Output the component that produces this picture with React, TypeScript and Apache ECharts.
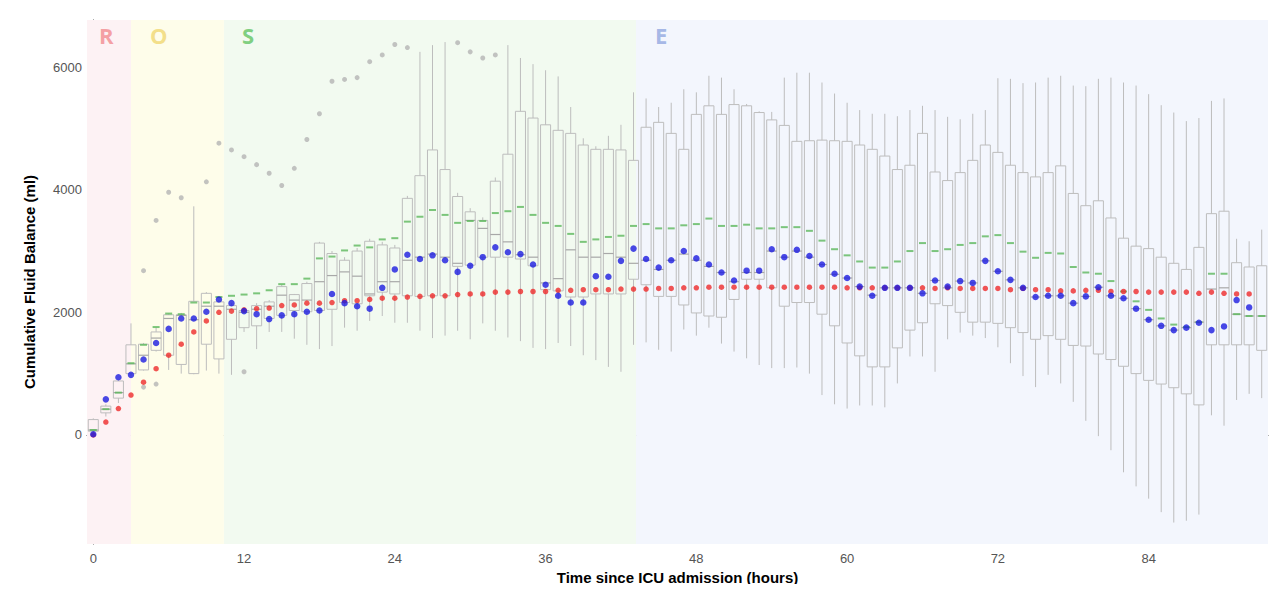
import React, { useEffect, useRef } from "react";
import * as echarts from "echarts";

const hours = [0,1,2,3,4,5,6,7,8,9,10,11,12,13,14,15,16,17,18,19,20,21,22,23,24,25,26,27,28,29,30,31,32,33,34,35,36,37,38,39,40,41,42,43,44,45,46,47,48,49,50,51,52,53,54,55,56,57,58,59,60,61,62,63,64,65,66,67,68,69,70,71,72,73,74,75,76,77,78,79,80,81,82,83,84,85,86,87,88,89,90,91,92,93];

const boxMin = [0,300,520,960,1050,1360,1060,1000,990,1050,1000,980,1680,1400,1680,1680,1570,1470,1400,1450,1750,1700,1860,1940,1830,1830,1700,1580,1620,1700,1560,1820,1700,1590,1530,1420,1400,1500,1450,1300,1220,1110,1030,1470,1510,1390,1360,1720,1620,1750,1490,1360,1250,1140,1090,1090,1100,1000,650,500,430,480,480,450,840,1280,1280,1030,1560,1670,1620,1580,1430,1170,960,780,980,840,540,230,-20,-250,-610,-840,-1040,-1260,-1430,-1400,-1300,320,150,570,670,600];
const boxQ1 = [60,360,600,1000,1060,1380,1300,1150,1000,1480,1240,1560,1750,1780,1900,1950,2030,2010,2030,2050,2160,2140,2270,2330,2300,2270,2260,2270,2270,2750,2770,2900,2900,2900,2870,2760,2370,2350,2250,2250,2300,2300,2300,2540,2450,2260,2260,2120,1990,1940,1920,2210,2540,2540,2400,2100,2160,2160,1970,1780,1500,1290,1110,1110,1420,1710,1830,2140,2110,2000,1840,1840,1820,1750,1670,1560,1620,1560,1460,1450,1320,1230,1120,1000,890,830,770,670,490,1470,1470,1470,1470,1380];
const boxMedian = [80,420,690,1160,1300,1580,1900,1950,1880,2100,2100,2050,2000,2050,2100,2280,2200,2200,2500,2600,2660,2590,2300,2500,2500,2850,2900,2950,2900,2800,3500,3370,3270,3150,2940,2900,2480,2550,3020,2900,2900,2960,2900,2800,2850,2700,2850,2950,2850,2750,2650,2500,2650,2650,3000,2900,3000,2900,2780,2620,2560,2420,2280,2400,2400,2400,2310,2520,2400,2510,2480,2840,2670,2530,2400,2250,2270,2270,2150,2260,2410,2270,2230,2060,1880,1780,1710,1750,1840,2380,2400,1970,1940,1940];
const boxQ3 = [250,470,880,1470,1480,1680,1960,1960,2180,2310,2170,2110,2030,2110,2170,2420,2290,2470,3130,2960,2850,3000,3160,3100,3050,3860,4230,4650,4330,3890,3640,3500,4140,4580,5280,5170,5060,4970,4920,4730,4660,4660,4650,4480,5020,5100,4920,4660,5230,5370,5230,5390,5370,5260,5140,5050,4790,4800,4810,4800,4790,4730,4660,4550,4330,4400,4920,4290,4150,4280,4480,4730,4610,4400,4280,4210,4280,4390,3940,3740,3820,3540,3210,3080,3040,2900,2800,2700,3060,3610,3650,2810,2740,2760];
const boxMax = [270,500,900,1820,1500,1750,1980,1990,3730,2330,2200,2150,2060,2150,2200,2450,2300,2500,3150,3000,2900,3050,3200,3150,3100,3900,6250,6360,6410,3950,3700,3550,4200,6360,6150,6050,5950,5850,5350,4840,4710,4880,5060,5590,5490,5350,5420,5640,5590,5860,5830,5640,5400,5280,5270,5830,5910,5910,5750,5570,5420,5300,5240,5240,5200,5300,5370,5300,5190,5150,5240,5300,5820,5810,5740,5750,5830,5860,5700,5690,5810,5830,5750,5700,5560,5380,5260,5120,5170,5450,5490,3200,3160,3350];

const meanBlue = [10,580,940,980,1230,1500,1730,1900,1900,2010,2210,2150,2020,1970,1890,1950,1970,2010,2030,2300,2150,2100,2060,2400,2700,2940,2870,2930,2850,2660,2760,2900,3060,2980,2950,2780,2450,2270,2160,2160,2590,2580,2840,3040,2870,2730,2850,3000,2880,2780,2650,2520,2680,2680,3030,2900,3020,2920,2780,2630,2560,2420,2270,2400,2400,2400,2310,2520,2420,2510,2480,2840,2670,2530,2400,2250,2270,2270,2150,2260,2410,2270,2230,2060,1880,1780,1710,1750,1830,1710,1770,2200,2080,null];
const redModel = [0,210,430,650,860,1080,1300,1480,1680,1860,2000,2020,2040,2060,2070,2110,2120,2150,2150,2160,2190,2190,2210,2230,2230,2250,2260,2270,2270,2290,2300,2300,2330,2330,2340,2340,2340,2360,2360,2370,2370,2370,2380,2380,2380,2390,2390,2400,2400,2410,2410,2410,2410,2410,2410,2410,2410,2410,2410,2410,2400,2400,2400,2400,2400,2400,2400,2390,2400,2390,2390,2390,2390,2370,2390,2370,2370,2350,2350,2360,2360,2340,2340,2340,2330,2330,2330,2330,2310,2330,2310,2300,2300,null];
const greenDash = [80,420,690,1170,1470,1760,1980,1970,2160,2160,2250,2270,2290,2310,2360,2460,2460,2550,2880,2910,3010,3090,3060,3190,3210,3480,3560,3670,3590,3460,3490,3490,3620,3650,3720,3590,3460,3410,3280,3150,3190,3230,3250,3410,3440,3370,3370,3420,3440,3530,3410,3410,3430,3370,3370,3390,3390,3330,3170,3030,2930,2830,2730,2730,2830,3000,3130,3000,3030,3100,3130,3240,3260,3130,2990,2890,2970,2960,2740,2650,2630,2510,2340,2180,2040,1900,1800,1760,1840,2630,2630,1970,1940,1940];

const outlierHours = [4,4,5,5,6,7,9,10,11,12,12,13,14,15,16,17,18,19,20,21,22,23,24,25,29,30,31,32];
const outlierValues = [2680,780,3500,830,3960,3870,4130,4760,4650,4540,1030,4410,4270,4070,4350,4820,5240,5770,5800,5830,6090,6200,6370,6320,6400,6250,6150,6200];

const phases = [
  { name: "R", from: -0.5, to: 3, fill: "#fdf2f4", text: "#f4a0a4", dx: 12 },
  { name: "O", from: 3, to: 10.4, fill: "#fefdea", text: "#f3df8a", dx: 19 },
  { name: "S", from: 10.4, to: 43.2, fill: "#f2faf0", text: "#80cf80", dx: 18 },
  { name: "E", from: 43.2, to: 93.5, fill: "#f3f6fd", text: "#a6b8e6", dx: 19 },
];

const yTicks = [0, 2000, 4000, 6000];
const xTicks = [0, 12, 24, 36, 48, 60, 72, 84];

export default function App() {
  const ref = useRef<HTMLDivElement>(null);
  useEffect(() => {
    if (!ref.current) return;
    const chart = echarts.init(ref.current, null, { renderer: "svg" });
    const boxData = hours.map((h, i) => [h, boxMin[i], boxQ1[i], boxMedian[i], boxQ3[i], boxMax[i]]);
    const axisFont = "'Liberation Sans', Arial, sans-serif";
    chart.setOption({
      animation: false,
      backgroundColor: "#ffffff",
      grid: { left: 79, right: 8, top: 12, bottom: 48, containLabel: false, outerBoundsMode: "none" },
      xAxis: {
        type: "value",
        min: -0.5,
        max: 93.5,
        name: "Time since ICU admission (hours)",
        nameLocation: "middle",
        nameGap: 26,
        nameTextStyle: { fontFamily: axisFont, fontWeight: "bold", fontSize: 15, color: "#000" },
        splitLine: { show: false },
        axisLine: { lineStyle: { color: "#333", width: 1 } },
        axisTick: { show: true, customValues: xTicks, length: 4, lineStyle: { color: "#333" } },
        axisLabel: { customValues: xTicks, color: "#555", fontSize: 13, fontFamily: axisFont, margin: 8 },
      },
      yAxis: {
        type: "value",
        min: -1780,
        max: 6770,
        name: "Cumulative Fluid Balance (ml)",
        nameLocation: "middle",
        nameGap: 50,
        nameRotate: 90,
        nameTextStyle: { fontFamily: axisFont, fontWeight: "bold", fontSize: 15, color: "#000" },
        splitLine: { show: false },
        axisLine: { show: true, lineStyle: { color: "#333", width: 1 } },
        axisTick: { show: true, customValues: yTicks, length: 4, lineStyle: { color: "#333" } },
        axisLabel: {
          customValues: yTicks,
          color: "#555",
          fontSize: 13,
          fontFamily: axisFont,
          margin: 5,
          formatter: (v: number) => String(v),
        },
      },
      series: [
        {
          type: "custom",
          name: "box",
          data: boxData,
          encode: { x: 0, y: [1, 2, 3, 4, 5] },
          z: 2,
          markArea: {
            silent: true,
            data: phases.map((p) => [
              {
                name: p.name,
                xAxis: p.from,
                itemStyle: { color: p.fill },
                label: {
                  show: true,
                  position: [p.dx, 4],
                  color: p.text,
                  fontSize: 22,
                  fontWeight: "bold",
                  fontFamily: "'Open Sans', 'Noto Sans', sans-serif",
                },
              },
              { xAxis: p.to },
            ]),
          },
          renderItem: (params: any, api: any) => {
            const h = api.value(0);
            const pMin = api.coord([h, api.value(1)]);
            const pQ1 = api.coord([h, api.value(2)]);
            const pMed = api.coord([h, api.value(3)]);
            const pQ3 = api.coord([h, api.value(4)]);
            const pMax = api.coord([h, api.value(5)]);
            const w = api.size([1, 0])[0] * 0.8;
            const x = pMed[0];
            const stroke = { stroke: "#bdbdbd", lineWidth: 1, fill: "none" };
            return {
              type: "group",
              children: [
                { type: "line", shape: { x1: x, y1: pMax[1], x2: x, y2: pQ3[1] }, style: stroke },
                { type: "line", shape: { x1: x, y1: pQ1[1], x2: x, y2: pMin[1] }, style: stroke },
                { type: "rect", shape: { x: x - w / 2, y: pQ3[1], width: w, height: pQ1[1] - pQ3[1] }, style: stroke },
                { type: "line", shape: { x1: x - w / 2, y1: pMed[1], x2: x + w / 2, y2: pMed[1] }, style: { stroke: "#a8a8a8", lineWidth: 1.2 } },
              ],
            };
          },
        },
        {
          type: "scatter",
          name: "outliers",
          data: outlierHours.map((h, i) => [h, outlierValues[i]]),
          symbol: "circle",
          symbolSize: 5,
          itemStyle: { color: "#b4b4b4" },
          z: 3,
        },
        {
          type: "scatter",
          name: "green",
          data: hours.map((h, i) => [h, greenDash[i]]),
          symbol: "rect",
          symbolSize: [7, 2],
          itemStyle: { color: "#5cb85c" },
          z: 4,
        },
        {
          type: "scatter",
          name: "red",
          data: hours.map((h, i) => [h, redModel[i]]),
          symbol: "circle",
          symbolSize: 5.5,
          itemStyle: { color: "#ee2a2a" },
          z: 5,
        },
        {
          type: "scatter",
          name: "blue",
          data: hours.map((h, i) => [h, meanBlue[i]]),
          symbol: "circle",
          symbolSize: 6.5,
          itemStyle: { color: "#1c1ce0" },
          z: 6,
        },
      ],
    });
    return () => chart.dispose();
  }, []);
  return <div ref={ref} style={{ width: 1268, height: 584, marginBottom: -8 }} />;
}
